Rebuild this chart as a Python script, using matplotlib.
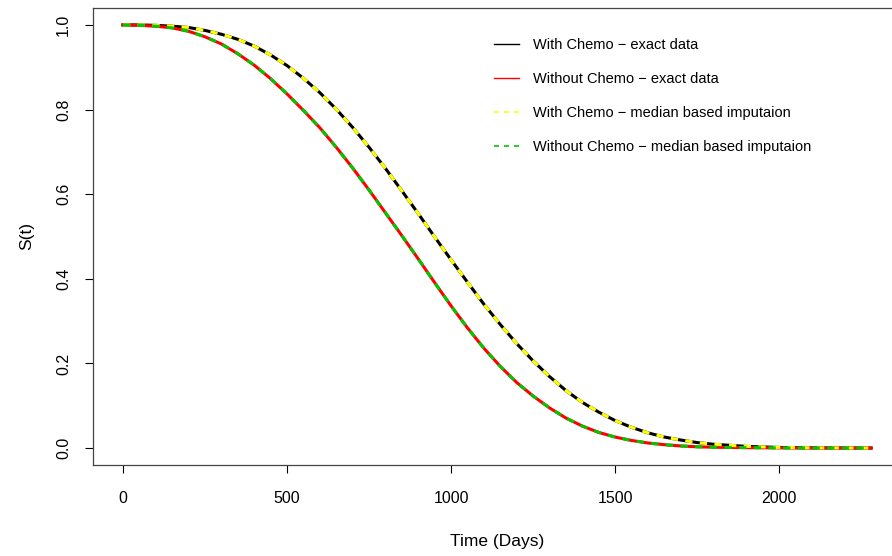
import matplotlib
matplotlib.use("Agg")
import matplotlib.pyplot as plt
from matplotlib.lines import Line2D

plt.rcParams['font.family'] = ['Liberation Sans', 'DejaVu Sans']

# survival curves (50-day steps, then 100)
days = [0, 50, 100, 150, 200, 250, 300, 350, 400, 450, 500, 550, 600, 650,
        700, 750, 800, 850, 900, 950, 1000, 1050, 1100, 1150, 1200, 1250,
        1300, 1350, 1400, 1450, 1500, 1550, 1600, 1650, 1700, 1750, 1800,
        1900, 2000, 2100, 2200, 2280]
s_chemo_exact = [1.000, 1.000, 0.999, 0.997, 0.994, 0.987, 0.978, 0.966,
                 0.950, 0.929, 0.904, 0.874, 0.840, 0.801, 0.758, 0.711,
                 0.661, 0.608, 0.554, 0.499, 0.445, 0.392, 0.340, 0.292,
                 0.247, 0.206, 0.169, 0.136, 0.108, 0.085, 0.065, 0.049,
                 0.036, 0.026, 0.019, 0.013, 0.009, 0.004, 0.0015, 0.0006,
                 0.0002, 0.0001]
s_nochemo_exact = [1.000, 0.999, 0.997, 0.993, 0.985, 0.972, 0.955, 0.932,
                   0.905, 0.873, 0.837, 0.798, 0.757, 0.711, 0.662, 0.610,
                   0.556, 0.502, 0.447, 0.391, 0.336, 0.284, 0.236, 0.193,
                   0.155, 0.123, 0.095, 0.071, 0.052, 0.037, 0.026, 0.018,
                   0.012, 0.008, 0.005, 0.003, 0.002, 0.001, 0.0004, 0.0001,
                   0.0, 0.0]
s_chemo_median = [1.000, 1.000, 0.999, 0.997, 0.994, 0.987, 0.978, 0.966,
                  0.950, 0.929, 0.904, 0.874, 0.840, 0.801, 0.758, 0.711,
                  0.661, 0.608, 0.554, 0.499, 0.445, 0.392, 0.340, 0.292,
                  0.247, 0.206, 0.169, 0.136, 0.108, 0.085, 0.065, 0.049,
                  0.036, 0.026, 0.019, 0.013, 0.009, 0.004, 0.0015, 0.0006,
                  0.0002, 0.0001]
s_nochemo_median = [1.000, 0.999, 0.997, 0.993, 0.985, 0.972, 0.955, 0.932,
                    0.905, 0.873, 0.837, 0.798, 0.757, 0.711, 0.662, 0.610,
                    0.556, 0.502, 0.447, 0.391, 0.336, 0.284, 0.236, 0.193,
                    0.155, 0.123, 0.095, 0.071, 0.052, 0.037, 0.026, 0.018,
                    0.012, 0.008, 0.005, 0.003, 0.002, 0.001, 0.0004, 0.0001,
                    0.0, 0.0]

labels = ['With Chemo \u2212 exact data',
          'Without Chemo \u2212 exact data',
          'With Chemo \u2212 median based imputaion',
          'Without Chemo \u2212 median based imputaion']
green = '#00c800'

fig = plt.figure(figsize=(8.92, 5.56), dpi=100)
ax = fig.add_axes([93/892, 1-465/556, (901-93)/892, (465-8)/556])

ax.plot(days, s_chemo_exact, color='black', lw=2.2)
ax.plot(days, s_nochemo_exact, color='red', lw=2.2)
ax.plot(days, s_chemo_median, color='yellow', lw=2.2, ls=(0, (2.4, 2.4)))
ax.plot(days, s_nochemo_median, color=green, lw=2.2, ls=(0, (2.4, 2.4)))

ax.set_xlim(-91.2, 2371.2)
ax.set_ylim(-0.04, 1.04)
ax.set_xticks([0, 500, 1000, 1500, 2000])
ax.set_yticks([0.0, 0.2, 0.4, 0.6, 0.8, 1.0])
ax.set_yticklabels(['0.0', '0.2', '0.4', '0.6', '0.8', '1.0'], rotation=90, va='center')
ax.tick_params(direction='out', length=5.8, width=0.8, labelsize=11.5, pad=13)
ax.tick_params(axis='y', pad=10)
for sp in ax.spines.values():
    sp.set_color('#444444')
    sp.set_linewidth(0.9)

ax.set_xlabel('Time (Days)', fontsize=12.5, labelpad=20)
ax.set_ylabel('S(t)', fontsize=12.5, labelpad=16)

handles = [Line2D([], [], color='black', lw=1),
           Line2D([], [], color='red', lw=1),
           Line2D([], [], color='yellow', lw=1.2, ls=(0, (3, 3))),
           Line2D([], [], color=green, lw=1.2, ls=(0, (3, 3)))]
ax.legend(handles, labels, loc='upper left', bbox_to_anchor=(481/892, 1-25/556),
          bbox_transform=fig.transFigure, frameon=False, fontsize=10.5,
          handlelength=1.7, handletextpad=0.95, labelspacing=1.38)

fig.savefig('out.png', dpi=100)
